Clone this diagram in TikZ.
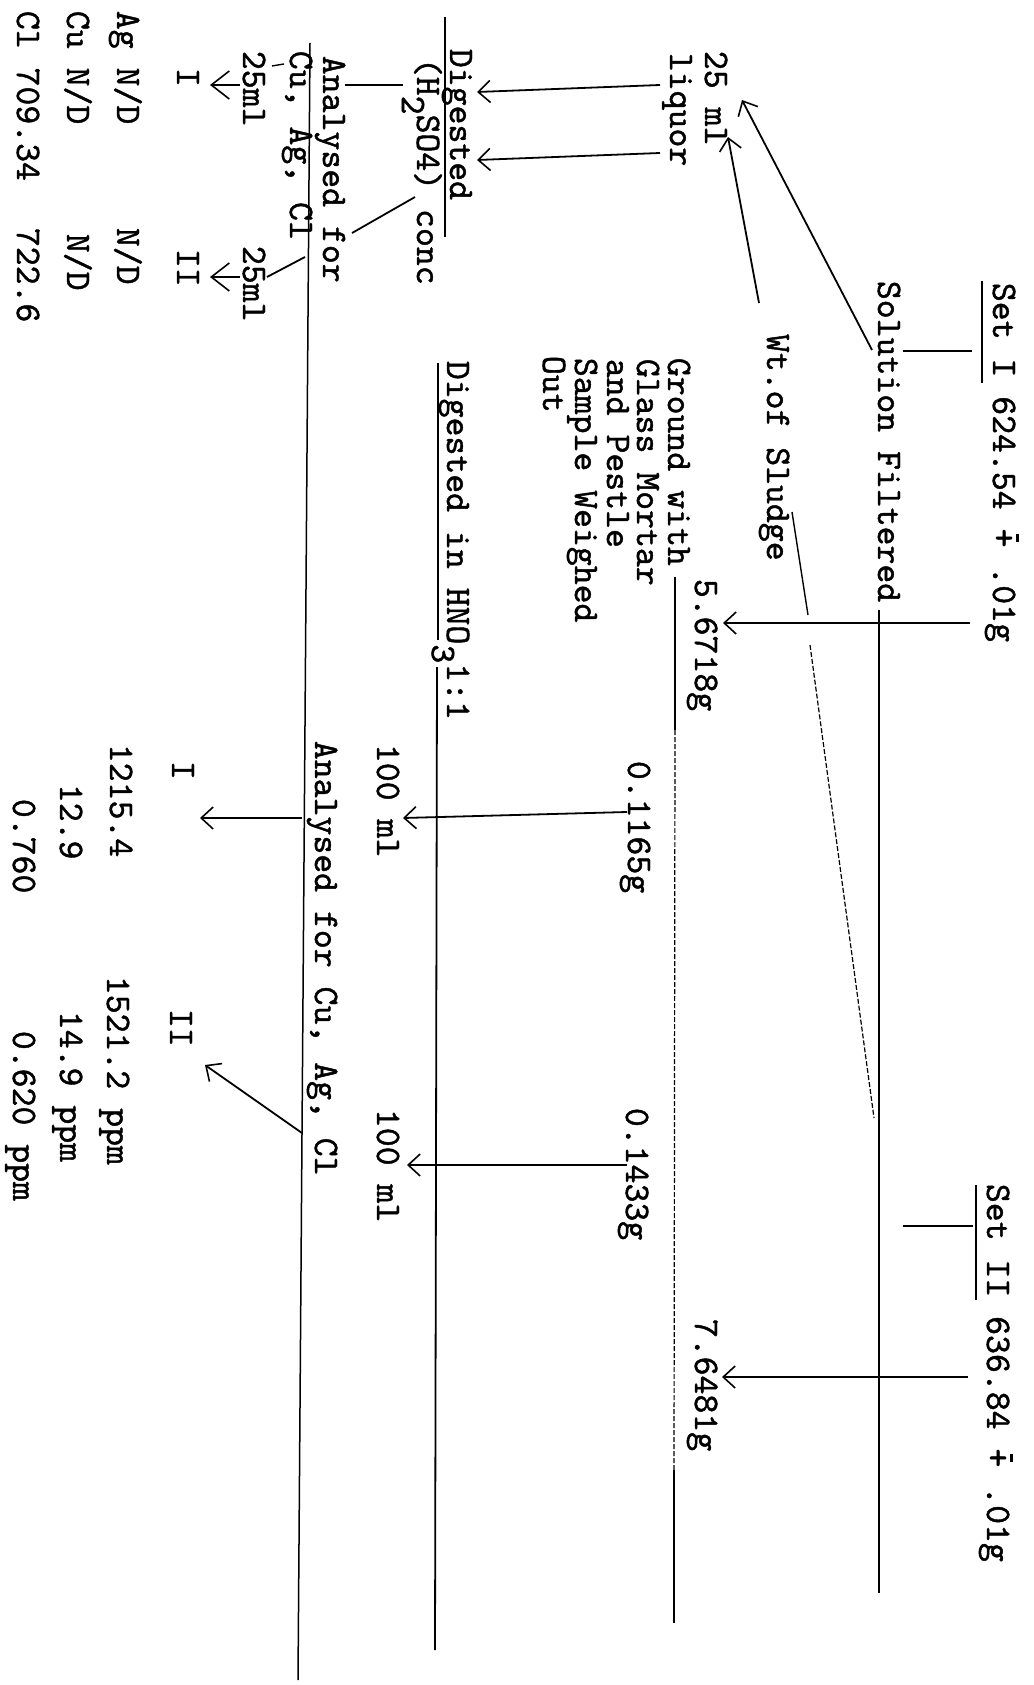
\documentclass[tikz,border=0pt]{standalone}
\usepackage{fontspec}
\usetikzlibrary{arrows.meta,calc}

\newfontfamily\twfont{lmmono10-regular.otf}[FakeBold=1.2]
\newcommand{\plusbar}{\makebox[0pt][l]{\raisebox{0.64em}{\kern0.16em\rule{0.22em}{0.07em}}}+}
\newcommand{\lowr}[1]{\raisebox{-0.42em}{#1}}

\begin{document}
\begin{tikzpicture}[x=1pt, y=-1pt, line width=1.8pt,
  txt/.style={rotate=-90, anchor=base west, inner sep=0pt, font=\twfont\fontsize{36}{36}\selectfont},
  arr/.style={-{Straight Barb[length=12pt,width=22pt,line width=1.6pt]}},
  sarr/.style={-{Straight Barb[length=18pt,width=28pt,line width=1.6pt]}},
  faint/.style={line width=1.2pt, dash pattern=on 5pt off 2pt}]
  \useasboundingbox (0,0) rectangle (1033,1685);
  \fill[white] (0,0) rectangle (1033,1685);

  % set I and set II
  \node[txt] (setI) at (993,282) {Set I 624.54 \plusbar{} .01g};
  \node[txt] (setII) at (987,1183) {Set II 636.84 \plusbar{} .01g};
  \node[txt] (solf) at (878,280) {Solution Filtered};
  \node[txt] (wts) at (767,333) {Wt.of Sludge};
  \node[txt] (wI) at (695,578) {5.6718g};
  \node[txt] (wII) at (695,1318) {7.6481g};
  \node[txt] (ml25) at (705,50) {25 ml};
  \node[txt] (liq) at (670,52) {liquor};
  \node[txt] (grd) at (668,357) {Ground with};
  \node[txt] (gls) at (637,358) {Glass Mortar};
  \node[txt] (pst) at (607,358) {and Pestle};
  \node[txt] (smp) at (575,357) {Sample Weighed};
  \node[txt] (out) at (543,355) {Out};
  \node[txt] (sI) at (628,760) {0.1165g};
  \node[txt] (sII) at (626,1107) {0.1433g};

  % liquor branch
  \node[txt] (digL) at (450,48) {Digested};
  \node[txt] (acid) at (417,57) {(H\lowr{2}SO4) conc};
  \node[txt] (anaL) at (323,55) {Analysed for};
  \node[txt] (elL) at (290,50) {Cu, Ag, Cl};
  \node[txt] (vI) at (243,50) {25ml};
  \node[txt] (vII) at (243,245) {25ml};
  \node[txt] (rI) at (177,67) {I};
  \node[txt] (rII) at (177,248) {II};
  \node[txt] (agL) at (117,10) {Ag N/D};
  \node[txt] (agLII) at (117,227) {N/D};
  \node[txt] (cuL) at (67,10) {Cu N/D};
  \node[txt] (cuLII) at (67,233) {N/D};
  \node[txt] (clL) at (17,10) {Cl 709.34};
  \node[txt] (clLII) at (17,227) {722.6};

  % sludge branch
  \node[txt] (digR) at (447,360) {Digested in HNO\lowr{3}1:1};
  \node[txt] (vlI) at (377,743) {100 ml};
  \node[txt] (vlII) at (377,1108) {100 ml};
  \node[txt] (anaR) at (315,740) {Analysed for Cu, Ag, Cl};
  \node[txt] (sRI) at (172,760) {I};
  \node[txt] (sRII) at (170,1008) {II};
  \node[txt] (agR) at (110,743) {1215.4};
  \node[txt] (cuR) at (60,783) {12.9};
  \node[txt] (clR) at (13,798) {0.760};
  \node[txt] (agRII) at (107,975) {1521.2 ppm};
  \node[txt] (cuRII) at (60,1010) {14.9 ppm};
  \node[txt] (clRII) at (13,1030) {0.620 ppm};

  % rules
  \coordinate (uIa) at (982,281); \coordinate (uIb) at (982,383);
  \coordinate (uIIa) at (976,1185); \coordinate (uIIb) at (976,1300);
  \coordinate (stIa) at (972,351); \coordinate (stIb) at (903,351);
  \coordinate (stIIa) at (973,1226); \coordinate (stIIb) at (903,1226);
  \coordinate (fa) at (879,610); \coordinate (fb) at (879,1593);
  \draw (uIa) -- (uIb);
  \draw (uIIa) -- (uIIb);
  \draw (stIa) -- (stIb);
  \draw (stIIa) -- (stIIb);
  \draw (fa) -- (fb);
  \coordinate (gra) at (675,577); \coordinate (grb) at (675,730);
  \coordinate (grc) at (674,1470); \coordinate (grd) at (674,1623);
  \draw (gra) -- (grb);
  \draw[faint] (grb) -- (grc);
  \draw (grc) -- (grd);
  \coordinate (sla) at (792,512); \coordinate (slb) at (808,615);
  \coordinate (slc) at (810,645); \coordinate (sld) at (874,1118);
  \draw[line width=1.4pt] (sla) -- (slb);
  \draw[faint] (slc) -- (sld);
  \coordinate (dLa) at (445,17); \coordinate (dLb) at (445,237);
  \draw (dLa) -- (dLb);
  \coordinate (dRa) at (438,363); \coordinate (dRb) at (438,640);
  \coordinate (dRc) at (437,667); \coordinate (dRd) at (435,1650);
  \draw (dRa) -- (dRb);
  \draw (dRc) -- (dRd);
  \coordinate (aLa) at (310,43); \coordinate (aLb) at (298,1680);
  \draw[line width=1.5pt] (aLa) -- (aLb);
  \coordinate (stLa) at (403,85); \coordinate (stLb) at (345,85);
  \draw (stLa) -- (stLb);
  \coordinate (cca) at (415,197); \coordinate (ccb) at (352,233);
  \draw (cca) -- (ccb);
  \coordinate (c2a) at (305,257); \coordinate (c2b) at (267,277);
  \draw (c2a) -- (c2b);
  \coordinate (tka) at (284,64); \coordinate (tkb) at (272,66);
  \draw[line width=1.4pt] (tka) -- (tkb);

  % arrows
  \coordinate (aI) at (970,623); \coordinate (aIt) at (723,623);
  \coordinate (aII) at (968,1377); \coordinate (aIIt) at (722,1377);
  \coordinate (asf) at (872,350); \coordinate (asft) at (742,100);
  \coordinate (awt) at (759,303); \coordinate (awtt) at (728,137);
  \coordinate (lq1) at (660,85); \coordinate (lq1t) at (477,92);
  \coordinate (lq2) at (660,153); \coordinate (lq2t) at (477,160);
  \coordinate (s1) at (627,812); \coordinate (s1t) at (403,818);
  \coordinate (s2) at (627,1165); \coordinate (s2t) at (407,1165);
  \coordinate (r1) at (302,818); \coordinate (r1t) at (200,818);
  \coordinate (r2) at (302,1133); \coordinate (r2t) at (205,1065);
  \coordinate (v1) at (240,85); \coordinate (v1t) at (210,85);
  \coordinate (v2) at (240,277); \coordinate (v2t) at (210,277);
  \draw[arr] (aI) -- (aIt);
  \draw[arr] (aII) -- (aIIt);
  \draw[arr] (asf) -- (asft);
  \draw[arr] (awt) -- (awtt);
  \draw[arr] (lq1) -- (lq1t);
  \draw[arr] (lq2) -- (lq2t);
  \draw[arr] (s1) -- (s1t);
  \draw[arr] (s2) -- (s2t);
  \draw[arr] (r1) -- (r1t);
  \draw[arr] (r2) -- (r2t);
  \draw[sarr] (v1) -- (v1t);
  \draw[sarr] (v2) -- (v2t);
\end{tikzpicture}
\end{document}
